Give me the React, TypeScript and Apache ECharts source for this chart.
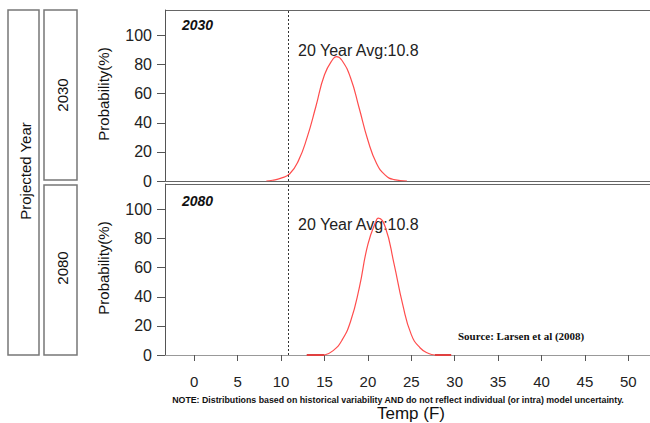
import React, { useEffect, useRef } from "react";
import * as echarts from "echarts";

const xTicks = [0, 5, 10, 15, 20, 25, 30, 35, 40, 45, 50];
const yTicks = [0, 20, 40, 60, 80, 100];
const avgTemp = 10.8;
const panels = ["2030", "2080"];

const temp2030 = [8.3, 9, 10, 11, 12, 13, 14, 15, 16, 16.4, 17, 18, 19, 20, 21, 22, 23, 24.5];
const prob2030 = [0, 0.5, 2, 5, 14, 30, 51, 73, 84, 85.5, 83, 71, 50, 28, 12, 4, 1, 0];

const temp2080 = [15, 16, 17, 18, 19, 20, 21, 21.2, 22, 23, 24, 25, 26, 27, 27.7];
const prob2080 = [0, 3, 10, 23, 46, 76, 93, 94, 88, 63, 35, 14, 5, 1, 0];

const tail2080Left = [12.95, 15];
const tail2080Right = [27.7, 29.6];

const zip = (xs: number[], ys: number[]) => xs.map((x, i) => [x, ys[i]]);

export default function App() {
  const ref = useRef<HTMLDivElement>(null);
  useEffect(() => {
    if (!ref.current) return;
    const chart = echarts.init(ref.current, null, { renderer: "svg" });
    const font = "Liberation Sans, Arial, sans-serif";
    const gridCommon = {
      left: 165,
      right: 0,
      height: 171,
      show: false,
    };
    const xAxisBase = {
      type: "value",
      min: -3.375,
      max: 52.5,
      splitLine: { show: false },
    };
    const yAxisBase = (gi: number) => ({
      type: "value",
      gridIndex: gi,
      min: 0,
      max: 117.5,
      splitLine: { show: false },
      axisLine: { show: true, onZero: false, lineStyle: { color: "#555", width: 1 } },
      axisTick: { show: true, length: 8, lineStyle: { color: "#555" }, customValues: yTicks },
      axisLabel: {
        show: true,
        customValues: yTicks,
        margin: 13,
        fontSize: 16,
        color: "#222",
        fontFamily: font,
      },
    });
    const redLine = { color: "#ff4d4d", width: 1.2 };
    const markLine = {
      silent: true,
      symbol: "none",
      label: { show: false },
      lineStyle: { color: "#333", type: [2, 2], width: 1 },
      data: [{ xAxis: avgTemp }],
    };
    const boxStyle = { fill: "#fff", stroke: "#777", lineWidth: 1.5 };
    const borderStyle = { stroke: "#666", lineWidth: 1 };
    const txt = (
      text: string,
      x: number,
      y: number,
      size: number,
      extra: any = {},
      rotation = 0
    ) => ({
      type: "text",
      x,
      y,
      rotation,
      style: {
        text,
        fontSize: size,
        fontFamily: font,
        fill: "#111",
        align: "center",
        verticalAlign: "middle",
        ...extra,
      },
    });

    chart.setOption({
      animation: false,
      backgroundColor: "#fff",
      grid: [
        { ...gridCommon, top: 10 },
        { ...gridCommon, top: 184 },
      ],
      xAxis: [
        {
          ...xAxisBase,
          gridIndex: 0,
          axisLine: { show: true, onZero: false, lineStyle: { color: "#666" } },
          axisTick: { show: false },
          axisLabel: { show: false },
        },
        {
          ...xAxisBase,
          gridIndex: 1,
          axisLine: { show: true, onZero: false, lineStyle: { color: "#999" } },
          axisTick: { show: true, length: 6, lineStyle: { color: "#555" }, customValues: xTicks },
          axisLabel: {
            show: true,
            customValues: xTicks,
            margin: 19,
            fontSize: 15,
            color: "#222",
            fontFamily: font,
          },
        },
      ],
      yAxis: [yAxisBase(0), yAxisBase(1)],
      series: [
        {
          type: "line",
          name: panels[0],
          xAxisIndex: 0,
          yAxisIndex: 0,
          data: zip(temp2030, prob2030),
          showSymbol: false,
          smooth: 0.5,
          lineStyle: redLine,
          markLine,
        },
        {
          type: "line",
          name: panels[1],
          xAxisIndex: 1,
          yAxisIndex: 1,
          data: zip(temp2080, prob2080),
          showSymbol: false,
          smooth: 0.5,
          lineStyle: redLine,
          markLine,
        },
        {
          type: "line",
          xAxisIndex: 1,
          yAxisIndex: 1,
          data: tail2080Left.map((x) => [x, 0]),
          showSymbol: false,
          lineStyle: { color: "#e04040", width: 2 },
        },
        {
          type: "line",
          xAxisIndex: 1,
          yAxisIndex: 1,
          data: tail2080Right.map((x) => [x, 0]),
          showSymbol: false,
          lineStyle: { color: "#e04040", width: 2 },
        },
      ],
      graphic: [
        { type: "line", shape: { x1: 165, y1: 10.5, x2: 650, y2: 10.5 }, style: borderStyle, silent: true },
        { type: "line", shape: { x1: 165, y1: 184.5, x2: 650, y2: 184.5 }, style: borderStyle, silent: true },
        { type: "rect", shape: { x: 8, y: 10, width: 31, height: 345 }, style: boxStyle },
        { type: "rect", shape: { x: 44, y: 10, width: 33, height: 170 }, style: boxStyle },
        { type: "rect", shape: { x: 44, y: 185, width: 33, height: 170 }, style: boxStyle },
        txt("Projected Year", 25, 171, 15, {}, Math.PI / 2),
        txt(panels[0], 62, 95, 15, {}, Math.PI / 2),
        txt(panels[1], 62, 268, 15, {}, Math.PI / 2),
        txt("Probability(%)", 103, 94, 15, {}, Math.PI / 2),
        txt("Probability(%)", 103, 268, 15, {}, Math.PI / 2),
        txt(panels[0], 182, 25, 14, { align: "left", fontWeight: "bold", fontStyle: "italic" }),
        txt(panels[1], 182, 201, 14, { align: "left", fontWeight: "bold", fontStyle: "italic" }),
        txt("20 Year Avg:" + avgTemp, 298, 50, 16, { align: "left", fill: "#222" }),
        txt("20 Year Avg:" + avgTemp, 298, 224, 16, { align: "left", fill: "#222" }),
        txt("Source: Larsen et al (2008)", 458, 336, 11, {
          align: "left",
          fontWeight: "bold",
          fontFamily: "Liberation Serif, Times New Roman, serif",
        }),
        txt(
          "NOTE: Distributions based on historical variability AND do not reflect individual (or intra) model uncertainty.",
          398,
          400,
          8.8,
          { fontWeight: "bold" }
        ),
        txt("Temp (F)", 411, 413, 17),
      ],
    });
    return () => chart.dispose();
  }, []);
  return <div ref={ref} style={{ width: 650, height: 423, position: "absolute", left: 0, top: 0 }} />;
}
